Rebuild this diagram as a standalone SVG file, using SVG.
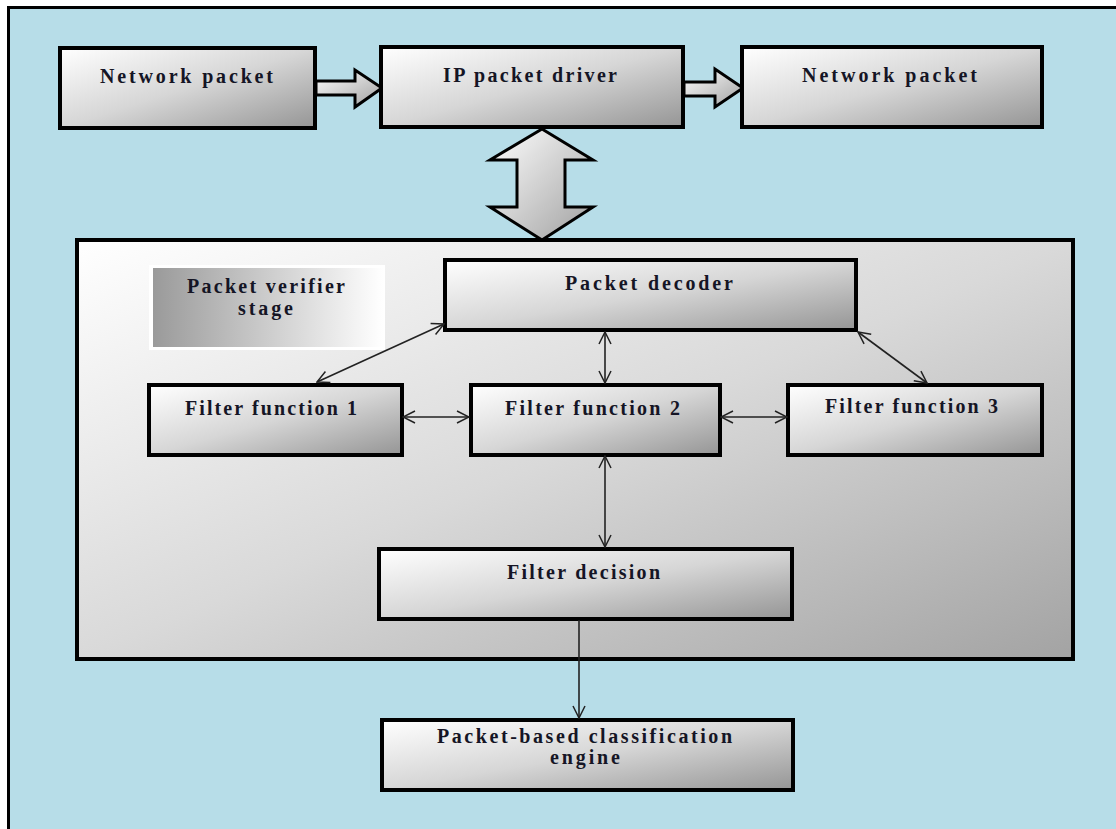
<svg xmlns="http://www.w3.org/2000/svg" width="1116" height="829" viewBox="0 0 1116 829">
<defs>
<linearGradient id="boxg" x1="0" y1="0" x2="1" y2="1">
<stop offset="0" stop-color="#ffffff"/>
<stop offset="0.5" stop-color="#d6d6d6"/>
<stop offset="1" stop-color="#959595"/>
</linearGradient>
<linearGradient id="panelg" x1="0" y1="0" x2="1" y2="1">
<stop offset="0" stop-color="#ffffff"/>
<stop offset="0.5" stop-color="#d9d9d9"/>
<stop offset="1" stop-color="#a3a3a3"/>
</linearGradient>
<linearGradient id="stageg" x1="0" y1="0" x2="1" y2="0">
<stop offset="0" stop-color="#9a9a9a"/>
<stop offset="1" stop-color="#ffffff"/>
</linearGradient>
<linearGradient id="arrg" x1="0" y1="0" x2="1" y2="1">
<stop offset="0" stop-color="#ffffff"/>
<stop offset="1" stop-color="#a0a0a0"/>
</linearGradient>
<marker id="ah" viewBox="0 0 14 14" refX="13" refY="7" markerWidth="14" markerHeight="14" markerUnits="userSpaceOnUse" orient="auto-start-reverse">
<path d="M1,1 L13,7 L1,13" fill="none" stroke="#222" stroke-width="1.5"/>
</marker>
</defs>
<style>
.box{fill:url(#boxg);stroke:#000;stroke-width:4}
.t{font-family:"Liberation Serif","Times New Roman",serif;font-size:20px;font-weight:bold;fill:#151525;text-anchor:start}
.blk{fill:url(#arrg);stroke:#000;stroke-width:3;stroke-linejoin:miter}
.con{stroke:#222;stroke-width:1.6;fill:none}
</style>
<rect x="0" y="0" width="1116" height="829" fill="#ffffff"/>
<rect id="frame" x="8.5" y="7.5" width="1120" height="840" fill="#b7dde8" stroke="#000" stroke-width="3"/>

<g id="panel">
<rect x="77" y="240" width="996" height="419" fill="url(#panelg)" stroke="#000" stroke-width="4"/>
</g>

<g id="blockarrows">
<polygon class="blk" points="316,81 355,81 355,70 382,88 355,107 355,95 316,95"/>
<polygon class="blk" points="684,82 715,82 715,69 743,88 715,107 715,96 684,96"/>
<polygon class="blk" points="542,129 593,160 565,160 565,207 593,207 542,240 490,207 517,207 517,160 490,160"/>
</g>

<g id="n1">
<rect class="box" x="60" y="48" width="255" height="80"/>
<text class="t" x="100" y="83" textLength="173" lengthAdjust="spacing">Network packet</text>
</g>
<g id="n2">
<rect class="box" x="381" y="47" width="302" height="80"/>
<text class="t" x="443" y="82" textLength="174" lengthAdjust="spacing">IP packet driver</text>
</g>
<g id="n3">
<rect class="box" x="742" y="47" width="300" height="80"/>
<text class="t" x="802" y="82" textLength="175" lengthAdjust="spacing">Network packet</text>
</g>

<g id="stage">
<rect x="149" y="265" width="236" height="85" fill="#ffffff"/>
<rect x="153" y="268" width="230" height="79" fill="url(#stageg)"/>
<text class="t" x="187" y="293" textLength="158" lengthAdjust="spacing">Packet verifier</text>
<text class="t" x="238" y="315" textLength="55" lengthAdjust="spacing">stage</text>
</g>

<g id="decoder">
<rect class="box" x="445" y="260" width="411" height="70"/>
<text class="t" x="565" y="290" textLength="168" lengthAdjust="spacing">Packet decoder</text>
</g>
<g id="ff1">
<rect class="box" x="149" y="385" width="253" height="70"/>
<text class="t" x="185" y="415" textLength="172" lengthAdjust="spacing">Filter function 1</text>
</g>
<g id="ff2">
<rect class="box" x="471" y="385" width="249" height="70"/>
<text class="t" x="505" y="415" textLength="175" lengthAdjust="spacing">Filter function 2</text>
</g>
<g id="ff3">
<rect class="box" x="788" y="385" width="254" height="70"/>
<text class="t" x="825" y="413" textLength="173" lengthAdjust="spacing">Filter function 3</text>
</g>
<g id="decision">
<rect class="box" x="379" y="549" width="413" height="70"/>
<text class="t" x="507" y="579" textLength="153" lengthAdjust="spacing">Filter decision</text>
</g>
<g id="engine">
<rect class="box" x="382" y="720" width="411" height="70"/>
<text class="t" x="437" y="743" textLength="295" lengthAdjust="spacing">Packet-based classification</text>
<text class="t" x="550" y="764" textLength="70" lengthAdjust="spacing">engine</text>
</g>

<g id="connectors">
<line class="con" x1="444" y1="324" x2="317" y2="382" marker-start="url(#ah)" marker-end="url(#ah)"/>
<line class="con" x1="605" y1="332" x2="605" y2="383" marker-start="url(#ah)" marker-end="url(#ah)"/>
<line class="con" x1="858" y1="332" x2="927" y2="383" marker-start="url(#ah)" marker-end="url(#ah)"/>
<line class="con" x1="403" y1="417" x2="469" y2="417" marker-start="url(#ah)" marker-end="url(#ah)"/>
<line class="con" x1="721" y1="417" x2="787" y2="417" marker-start="url(#ah)" marker-end="url(#ah)"/>
<line class="con" x1="605" y1="456" x2="605" y2="547" marker-start="url(#ah)" marker-end="url(#ah)"/>
<line class="con" x1="579" y1="620" x2="579" y2="718" marker-end="url(#ah)"/>
</g>
</svg>
